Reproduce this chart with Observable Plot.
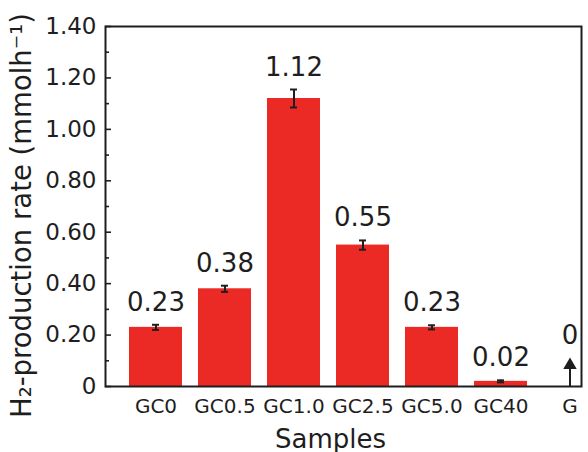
<!DOCTYPE html>
<html>
<head>
<meta charset="utf-8">
<script src="https://cdn.jsdelivr.net/npm/d3@7"></script>
<script src="https://cdn.jsdelivr.net/npm/@observablehq/plot@0.6"></script>
<style>
  html, body { margin: 0; padding: 0; background: #fff; }
  svg { display: block; }
</style>
</head>
<body>
<div id="chart"></div>
<script>
// ---- data ----
const samples = ["GC0", "GC0.5", "GC1.0", "GC2.5", "GC5.0", "GC40", "G"];
const rates   = [0.23, 0.38, 1.12, 0.55, 0.23, 0.02, 0];
const errors  = [0.010, 0.012, 0.035, 0.018, 0.008, 0.004, null];
const majorTicks = [0, 0.2, 0.4, 0.6, 0.8, 1.0, 1.2, 1.4];
const minorTicks = [0.1, 0.3, 0.5, 0.7, 0.9, 1.1, 1.3];
const yLabel = "H\u2082-production rate (mmolh\u207B\u00B9)";
const xLabel = "Samples";

// arrow marker (zero value) height, in data units
const arrowTop = 0.11;

const rows = samples.map((s, i) => ({sample: s, rate: rates[i], err: errors[i]}));
const withErr = rows.filter(d => d.err != null);
const zeroRows = rows.filter(d => d.err == null);
const fmt = v => v === 0 ? "0" : v.toFixed(2);

const ink = "#1e1e1e";
const red = "#ec2a25";

const chart = Plot.plot({
  width: 588,
  height: 452,
  marginLeft: 105,
  marginRight: 7,
  marginTop: 26,
  marginBottom: 66,
  style: {fontFamily: "DejaVu Sans", color: ink, background: "#fff", overflow: "visible"},
  x: {type: "band", domain: samples, paddingInner: 0.229, paddingOuter: 0.1145, insetLeft: 14, insetRight: -26, axis: null},
  y: {domain: [0, 1.4], axis: null},
  marks: [
    Plot.barY(rows, {x: "sample", y: "rate", fill: red}),
    Plot.ruleX(withErr, {x: "sample", y1: d => d.rate - d.err, y2: d => d.rate + d.err, stroke: ink, strokeWidth: 2}),
    Plot.tickY(withErr, {x: "sample", y: d => d.rate + d.err, insetLeft: 23, insetRight: 23, stroke: ink, strokeWidth: 2}),
    Plot.tickY(withErr, {x: "sample", y: d => d.rate - d.err, insetLeft: 23, insetRight: 23, stroke: ink, strokeWidth: 2}),
    // arrow for the zero value
    Plot.ruleX(zeroRows, {x: "sample", y1: "rate", y2: d => d.rate + arrowTop * 0.8, stroke: ink, strokeWidth: 2}),
    Plot.dot(zeroRows, {x: "sample", y: d => d.rate + arrowTop, symbol: "triangle", r: 5, fill: ink, stroke: "none", dy: 7}),
    // value labels
    Plot.text(rows, {x: "sample", y: d => d.rate + (d.err ?? arrowTop), text: d => fmt(d.rate),
      dy: -14, lineAnchor: "bottom", fontSize: 26, fill: ink}),
    Plot.frame({stroke: ink, strokeWidth: 2}),
    // y axis: major ticks with labels, minor ticks
    Plot.axisY({ticks: majorTicks, tickSize: -6, tickPadding: 15, tickFormat: fmt, fontSize: 23, strokeWidth: 1.6, label: null}),
    Plot.axisY({ticks: minorTicks, tickSize: -4, tickPadding: 0, tickFormat: () => "", strokeWidth: 1.6, label: null}),
    // x axis labels
    Plot.axisX({tickSize: 0, tickPadding: 12, fontSize: 20, label: null}),
    // axis titles
    Plot.text([xLabel], {frameAnchor: "bottom", dx: -13, dy: 61, lineAnchor: "bottom", fontSize: 26, fill: ink}),
    Plot.text([yLabel], {frameAnchor: "left", dx: -83, dy: 9, rotate: -90, textAnchor: "middle", lineAnchor: "middle", fontSize: 27.5, fill: ink})
  ]
});

document.getElementById("chart").appendChild(chart);
</script>
</body>
</html>
